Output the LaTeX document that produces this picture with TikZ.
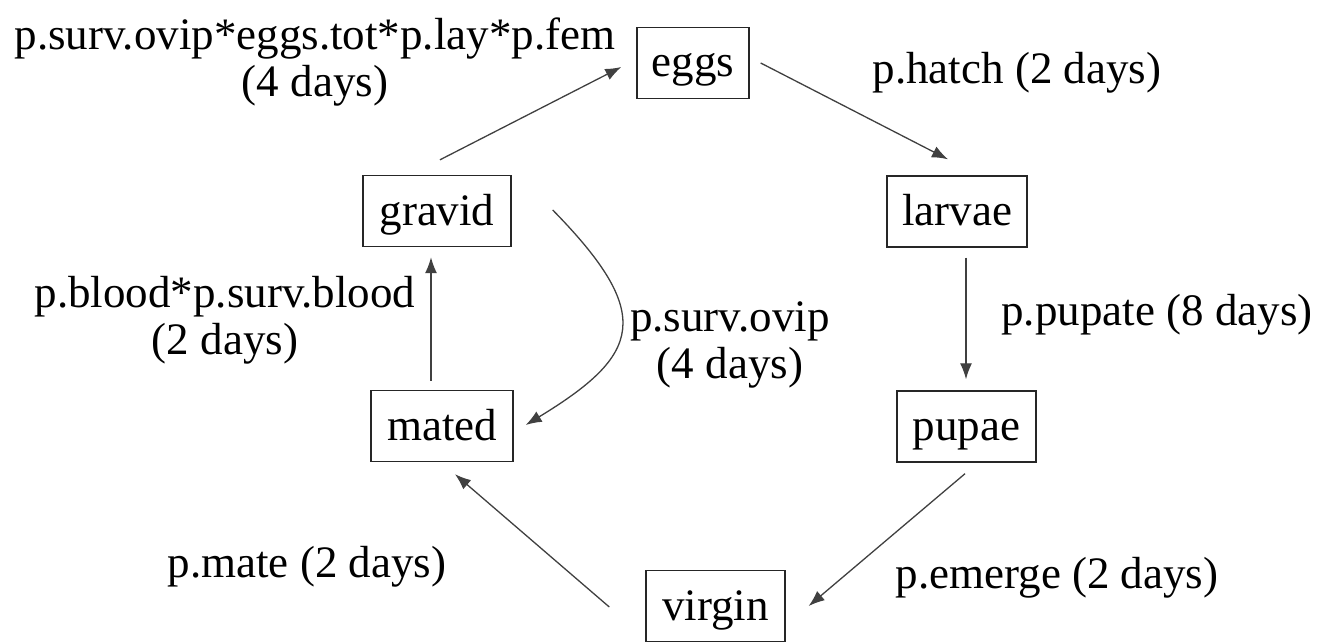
\documentclass[tikz,border=0pt]{standalone}
\usepackage{fontspec}
\setmainfont{Liberation Serif}
\usetikzlibrary{arrows.meta,calc}
\begin{document}
\begin{tikzpicture}[x=1pt,y=-1pt,
  box/.style={draw=black!85, line width=1.4pt, inner xsep=0pt, inner ysep=0pt,
    minimum height=71pt, text height=36pt, text depth=8pt,
    font=\fontsize{45}{50}\selectfont},
  lbl/.style={align=center, font=\fontsize{45}{47}\selectfont, inner sep=0pt},
  arr/.style={draw=black!75, line width=1.3pt, -{Latex[length=16pt,width=12pt]}}]
\useasboundingbox (0,0) rectangle (1325,642);

\node[box, minimum width=112pt] (eggs)   at (693,63)    {eggs};
\node[box, minimum width=148pt] (gravid) at (437,211)   {gravid};
\node[box, minimum width=140pt] (larvae) at (957,211.5) {larvae};
\node[box, minimum width=142pt] (mated)  at (442,426)   {mated};
\node[box, minimum width=139pt] (pupae)  at (966.5,426.5) {pupae};
\node[box, minimum width=139pt] (virgin) at (715.5,606) {virgin};

\node[lbl] (lay)    at (315,62)   {p.surv.ovip*eggs.tot*p.lay*p.fem\\(4 days)};
\node[lbl] (hatch)  at (1017,73)  {p.hatch (2 days)};
\node[lbl] (blood)  at (225,320)  {p.blood*p.surv.blood\\(2 days)};
\node[lbl] (ovip)   at (730,345)  {p.surv.ovip\\(4 days)};
\node[lbl] (pupate) at (1157,315) {p.pupate (8 days)};
\node[lbl] (mate)   at (307,567)  {p.mate (2 days)};
\node[lbl] (emerge) at (1057,578) {p.emerge (2 days)};

\draw[arr] ([shift={(3,-15)}]gravid.north) -- ([shift={(-15,4)}]eggs.west);
\draw[arr] ([shift={(11,0)}]eggs.east) -- ([shift={(-9,-16)}]larvae.north);
\draw[arr] ([shift={(9,10)}]larvae.south) -- ([shift={(-0.5,-11)}]pupae.north);
\draw[arr] ([shift={(-1.5,11)}]pupae.south) -- ([shift={(23,0)}]virgin.east);
\draw[arr] ([shift={(-36,1)}]virgin.west) -- ([shift={(13,12)}]mated.south);
\draw[arr] ([shift={(-11,-9)}]mated.north) -- ([shift={(-6,10)}]gravid.south);
\draw[arr] ([shift={(41,-1)}]gravid.east) .. controls +(103,105) and +(115,-70) .. ([shift={(12,-1)}]mated.east);
\end{tikzpicture}
\end{document}
